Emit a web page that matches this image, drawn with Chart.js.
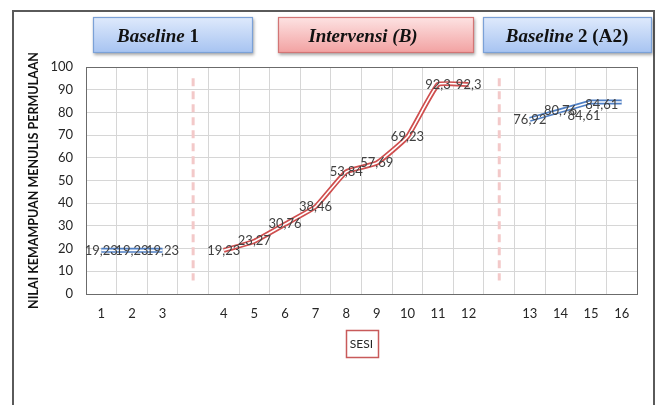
<!DOCTYPE html>
<html>
<head>
<meta charset="utf-8">
<script src="https://cdn.jsdelivr.net/npm/chart.js@4/dist/chart.umd.min.js"></script>
<style>
  html, body { margin: 0; padding: 0; background: #ffffff; }
  #wrap { width: 660px; height: 405px; }
</style>
</head>
<body>
<div id="wrap"><canvas id="c" width="660" height="405"></canvas></div>
<script>
// Sessions on the x axis; an empty label separates two phases.
const sessions = ['1', '2', '3', '', '4', '5', '6', '7', '8', '9', '10', '11', '12', '', '13', '14', '15', '16'];

// Scores per phase
const baseline1 = [19.23, 19.23, 19.23];
const intervensi = [19.23, 23.27, 30.76, 38.46, 53.84, 57.69, 69.23, 92.3, 92.3];
const baseline2 = [76.92, 80.76, 84.61, 84.61];

const phaseTitles = ['Baseline 1', 'Intervensi (B)', 'Baseline 2 (A2)'];
const yTitle = 'NILAI KEMAMPUAN MENULIS PERMULAAN';
const xTitle = 'SESI';

// Phase i starts right after the i-th blank label
const blanks = sessions.map((s, i) => (s === '' ? i : -1)).filter(i => i >= 0);
const starts = [0, ...blanks.map(i => i + 1)];
const place = (start, vals) => sessions.map((_, i) => (i >= start && i < start + vals.length ? vals[i - start] : null));

const BLUE = '#4f7fc4';
const RED = '#cf4f4f';

function doubleLine(values, color, tension) {
  // an outer coloured stroke with a thin white core gives the "double" line look
  return [
    { data: values, borderColor: '#ffffff', borderWidth: 1.6, pointRadius: 0, tension: tension, order: 0 },
    { data: values, borderColor: color, borderWidth: 5, pointRadius: 0, tension: tension, order: 1, showValues: true }
  ];
}

const fmt = v => String(v).replace('.', ',');

// white page with an outer frame, plot border, phase separators, header boxes, value labels
const decor = {
  id: 'decor',
  beforeDraw(chart) {
    const ctx = chart.ctx;
    ctx.save();
    ctx.fillStyle = '#ffffff';
    ctx.fillRect(0, 0, chart.width, chart.height);
    ctx.strokeStyle = '#5a5a5a';
    ctx.lineWidth = 2;
    ctx.beginPath();
    ctx.moveTo(13, chart.height + 2);
    ctx.lineTo(13, 11);
    ctx.lineTo(654, 11);
    ctx.lineTo(654, chart.height + 2);
    ctx.stroke();
    ctx.restore();
  },
  afterDatasetsDraw(chart) {
    const ctx = chart.ctx;
    const { left, right, top, bottom } = chart.chartArea;
    const x = chart.scales.x, y = chart.scales.y;
    ctx.save();
    // plot border
    ctx.strokeStyle = '#6b6b6b';
    ctx.lineWidth = 1;
    ctx.strokeRect(Math.round(left) + 0.5, Math.round(top) + 0.5, Math.round(right - left), Math.round(bottom - top));

    // dashed separators between phases
    ctx.strokeStyle = '#f3c9c9';
    ctx.lineWidth = 3;
    ctx.setLineDash([8, 5]);
    blanks.forEach(i => {
      const px = x.getPixelForValue(i);
      ctx.beginPath();
      ctx.moveTo(px, y.getPixelForValue(95));
      ctx.lineTo(px, y.getPixelForValue(6));
      ctx.stroke();
    });
    ctx.setLineDash([]);

    // value labels
    ctx.font = '13px Lato';
    ctx.fillStyle = '#404040';
    ctx.textAlign = 'center';
    ctx.textBaseline = 'middle';
    const nudge = { '2:16': [-7, 14], '2:17': [-20, 3] };
    let series = 0;
    chart.data.datasets.forEach((ds, di) => {
      if (!ds.showValues) return;
      const meta = chart.getDatasetMeta(di);
      ds.data.forEach((v, i) => {
        if (v === null) return;
        const pt = meta.data[i];
        const d = nudge[series + ':' + i] || [0, 0];
        ctx.fillText(fmt(v), pt.x + d[0], pt.y + d[1]);
      });
      series++;
    });

    // box around the x axis title
    ctx.strokeStyle = '#c85a5a';
    ctx.lineWidth = 1.5;
    ctx.strokeRect(346.5, 330.5, 32, 27);
    ctx.restore();
  },
  afterDraw(chart) {
    const ctx = chart.ctx;
    const boxes = [
      { x: 93, y: 17, w: 160, h: 36, cx: 158, top: '#dfeafc', bot: '#a6c3f1', line: '#7ba1d7' },
      { x: 278, y: 17, w: 196, h: 36, cx: 363, top: '#fde3e3', bot: '#f2a1a1', line: '#d27575' },
      { x: 483, y: 17, w: 169, h: 36, cx: 567, top: '#dfeafc', bot: '#a6c3f1', line: '#7ba1d7' }
    ];
    ctx.save();
    boxes.forEach((b, k) => {
      ctx.save();
      ctx.shadowColor = 'rgba(0,0,0,0.35)';
      ctx.shadowBlur = 3;
      ctx.shadowOffsetX = 1;
      ctx.shadowOffsetY = 2;
      const g = ctx.createLinearGradient(0, b.y, 0, b.y + b.h);
      g.addColorStop(0, b.top);
      g.addColorStop(1, b.bot);
      ctx.fillStyle = g;
      ctx.fillRect(b.x, b.y, b.w, b.h);
      ctx.restore();
      ctx.strokeStyle = b.line;
      ctx.lineWidth = 1.2;
      ctx.strokeRect(b.x + 0.5, b.y + 0.5, b.w - 1, b.h - 1);

      // words without digits are set in italic, the rest upright
      const parts = phaseTitles[k].split(' ').map((w, i, a) => ({
        t: w + (i < a.length - 1 ? ' ' : ''),
        it: !/\d/.test(w)
      }));
      const fontOf = p => (p.it ? 'italic bold 19px "Liberation Serif"' : 'bold 19px "Liberation Serif"');
      let total = 0;
      parts.forEach(p => { ctx.font = fontOf(p); total += ctx.measureText(p.t).width; });
      let px = b.cx - total / 2;
      ctx.fillStyle = '#111111';
      ctx.textBaseline = 'alphabetic';
      ctx.textAlign = 'left';
      parts.forEach(p => {
        ctx.font = fontOf(p);
        ctx.fillText(p.t, px, 42);
        px += ctx.measureText(p.t).width;
      });
    });
    ctx.restore();
  }
};

new Chart(document.getElementById('c'), {
  type: 'line',
  data: {
    labels: sessions,
    datasets: [
      ...doubleLine(place(starts[0], baseline1), BLUE, 0),
      ...doubleLine(place(starts[1], intervensi), RED, 0.12),
      ...doubleLine(place(starts[2], baseline2), BLUE, 0)
    ]
  },
  options: {
    responsive: false,
    animation: false,
    devicePixelRatio: 1,
    layout: { padding: { left: 20, top: 67, right: 23, bottom: 0 } },
    plugins: { legend: { display: false }, tooltip: { enabled: false } },
    scales: {
      x: {
        offset: true,
        grid: { offset: true, color: '#d6d6d6', drawTicks: false },
        border: { display: false },
        ticks: { autoSkip: false, maxRotation: 0, padding: 12, color: '#262626', font: { family: 'Lato', size: 13 } },
        title: { display: true, text: xTitle, color: '#262626', font: { family: 'Lato', size: 12 }, padding: { top: 0, bottom: 54 } },
        afterFit(s) { s.height = 111; }
      },
      y: {
        min: 0,
        max: 100,
        ticks: { stepSize: 10, padding: 13, color: '#262626', font: { family: 'Lato', size: 13 } },
        grid: { color: '#d6d6d6', drawTicks: false },
        border: { display: false },
        title: { display: true, text: yTitle, color: '#111111', font: { family: 'Lato', size: 12.5, weight: 'bold' }, padding: { top: 6, bottom: 0 } },
        afterFit(s) { s.width = 66; }
      }
    }
  },
  plugins: [decor]
});
</script>
</body>
</html>
